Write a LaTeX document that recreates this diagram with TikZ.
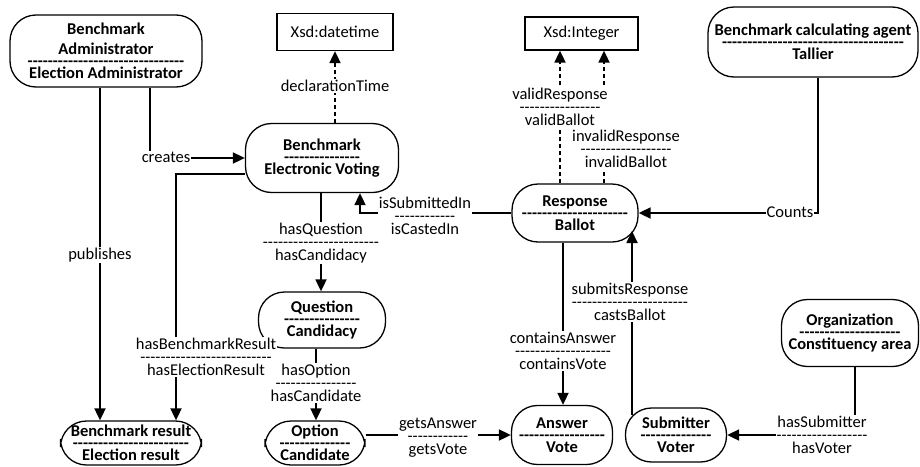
\documentclass[tikz,border=0pt]{standalone}
\usepackage{fontspec}
\setmainfont{Carlito}[Ligatures=TeXOff]
\usetikzlibrary{arrows.meta}
\ExplSyntaxOn
\NewDocumentCommand\hy{m}{\prg_replicate:nn{#1}{-}}
\ExplSyntaxOff
\newcommand\nsep[1]{\\[-8pt]\hy{#1}\\[-8pt]}
\newcommand\lsep[1]{\\[-7pt]\hy{#1}\\[-7pt]}
\tikzset{
  ent/.style={draw, line width=1.3pt, rounded corners=26pt, align=center,
    font=\bfseries\fontsize{16.5}{20}\selectfont, inner sep=0pt},
  tbox/.style={draw, line width=1.3pt, inner sep=0pt, font=\fontsize{16.5}{20}\selectfont},
  lab/.style={fill=white, align=center, inner sep=1pt, font=\fontsize{16.5}{20}\selectfont},
  conn/.style={line width=1.8pt, -{Triangle[length=12pt,width=11pt]}},
  dconn/.style={conn, dash pattern=on 4pt off 3pt},
}
\begin{document}
\begin{tikzpicture}[x=1pt,y=-1pt]
\useasboundingbox (0,0) rectangle (920,466);
% entities
\node[ent, minimum width=192pt, minimum height=72pt] (admin) at (106,51)
  {Benchmark\\Administrator\nsep{31}Election Administrator};
\node[tbox, minimum width=116pt, minimum height=37pt] (dt) at (335,32) {Xsd:datetime};
\node[tbox, minimum width=113pt, minimum height=33pt] (int) at (581.5,33.5) {Xsd:Integer};
\node[ent, minimum width=210pt, minimum height=70pt] (tallier) at (813,42)
  {Benchmark calculating agent\nsep{36}Tallier};
\node[ent, minimum width=153pt, minimum height=69pt] (evote) at (322,158)
  {Benchmark\nsep{15}Electronic Voting};
\node[ent, minimum width=126pt, minimum height=58pt] (resp) at (575,213)
  {Response\nsep{21}Ballot};
\node[ent, minimum width=127pt, minimum height=56pt] (question) at (322,320)
  {Question\nsep{15}Candidacy};
\node[ent, minimum width=100pt, minimum height=44pt] (option) at (315,443)
  {Option\nsep{14}Candidate};
\node[ent, minimum width=141pt, minimum height=44pt] (result) at (131,443)
  {Benchmark result\nsep{23}Election result};
\node[ent, minimum width=101pt, minimum height=59pt] (answer) at (562,435)
  {Answer\nsep{17}Vote};
\node[ent, minimum width=101pt, minimum height=54pt] (submitter) at (676,435)
  {Submitter\nsep{14}Voter};
\node[ent, minimum width=137pt, minimum height=67pt] (org) at (850,333)
  {Organization\nsep{20}Constituency area};
% helper coordinates
\coordinate (xpub) at (100,0);
\coordinate (xcre) at (150,0);
\coordinate (xres) at (176,0);
\coordinate (yres) at (0,174);
\coordinate (xdecl) at (335,0);
\coordinate (xq) at (321,0);
\coordinate (xsub) at (360,0);
\coordinate (xvalid) at (560,0);
\coordinate (xinv) at (604,0);
\coordinate (xcont) at (563,0);
\coordinate (xopt) at (316,0);
\coordinate (xcnt) at (818,0);
\coordinate (xorg) at (855,0);
\coordinate (rbr) at (632,231);
\coordinate (sbot) at (632,415);
% connectors
\draw[conn] (admin.south -| xpub) -- (result.north -| xpub);
\draw[conn] (admin.south -| xcre) |- (evote.west);
\draw[conn] (evote.west |- yres) -| (result.north -| xres);
\draw[dconn] (evote.north -| xdecl) -- (dt.south -| xdecl);
\draw[conn] (evote.south -| xq) -- (question.north -| xq);
\draw[conn] (resp.west) -| (evote.south -| xsub);
\draw[dconn] (resp.north -| xvalid) -- (int.south -| xvalid);
\draw[dconn] (resp.north -| xinv) -- (int.south -| xinv);
\draw[conn] (tallier.south -| xcnt) |- (resp.east);
\draw[conn] (sbot) -- (rbr);
\draw[conn] (resp.south -| xcont) -- (answer.north -| xcont);
\draw[conn] (question.south -| xopt) -- (option.north -| xopt);
\draw[conn] (option.east |- answer.west) -- (answer.west);
\draw[conn] (org.south -| xorg) |- (submitter.east);
% labels
\node[lab] (lpub) at (100,255) {publishes};
\node[lab] (lcre) at (166,157) {creates};
\node[lab] (lres) at (206,357) {hasBenchmarkResult\lsep{26}hasElectionResult};
\node[lab] (ldecl) at (335,86) {declarationTime};
\node[lab] (lq) at (321,243) {hasQuestion\lsep{23}hasCandidacy};
\node[lab] (lsub) at (425,216) {isSubmittedIn\lsep{12}isCastedIn};
\node[lab] (lvalid) at (560,107) {validResponse\lsep{16}validBallot};
\node[lab] (linv) at (626,149) {invalidResponse\lsep{18}invalidBallot};
\node[lab] (lcnt) at (790,212) {Counts};
\node[lab] (lsr) at (630,302) {submitsResponse\lsep{23}castsBallot};
\node[lab] (lcont) at (563,351) {containsAnswer\lsep{19}containsVote};
\node[lab] (lopt) at (316,383) {hasOption\lsep{16}hasCandidate};
\node[lab] (lget) at (438,438) {getsAnswer\lsep{12}getsVote};
\node[lab] (lorg) at (822,435) {hasSubmitter\lsep{18}hasVoter};
\end{tikzpicture}
\end{document}
